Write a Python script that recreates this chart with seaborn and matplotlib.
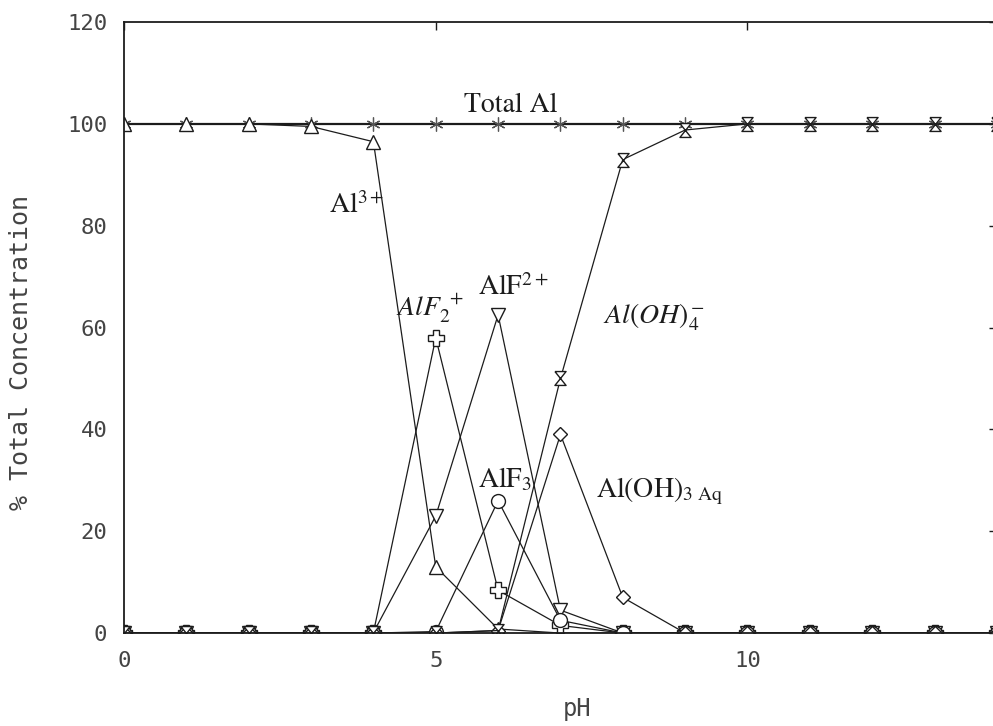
import matplotlib
matplotlib.use("Agg")
import matplotlib.pyplot as plt
import seaborn as sns

# pH steps and % of total Al for each species
ph = [0, 1, 2, 3, 4, 5, 6, 7, 8, 9, 10, 11, 12, 13, 14]
total_al = [100, 100, 100, 100, 100, 100, 100, 100, 100, 100, 100, 100, 100, 100, 100]
al3 = [100, 100, 100, 99.5, 96.5, 13, 0.8, 0, 0, 0, 0, 0, 0, 0, 0]
alf2_plus = [0, 0, 0, 0, 0.1, 58, 8.4, 1.5, 0, 0, 0, 0, 0, 0, 0]
alf_2plus = [0, 0, 0, 0, 0.1, 23, 62.5, 4.5, 0, 0, 0, 0, 0, 0, 0]
alf3 = [0, 0, 0, 0, 0, 0.3, 26, 2.5, 0, 0, 0, 0, 0, 0, 0]
aloh3 = [0, 0, 0, 0, 0, 0, 0.5, 39, 7, 0, 0, 0, 0, 0, 0]
aloh4 = [0, 0, 0, 0, 0, 0, 0.5, 50, 93, 98.8, 100, 100, 100, 100, 100]

y_ticks = [0, 20, 40, 60, 80, 100, 120]
x_ticks = [0, 5, 10]

sns.set_theme(style="white")
plt.rcParams["mathtext.fontset"] = "stix"

ink = "#1c1c1c"
hourglass = [(-0.8, 1), (0.8, 1), (-0.8, -1), (0.8, -1), (-0.8, 1)]

fig = plt.figure(figsize=(9.93, 7.26), dpi=100)
ax = fig.add_axes([0.1249, 0.128, 0.879, 0.8416])

# Total Al drawn first so the species markers sit on top of it
sns.lineplot(x=ph, y=total_al, ax=ax, color=ink, linewidth=1.6,
             marker=(6, 2, 0), markersize=10, markeredgecolor="#555555",
             markeredgewidth=0.9)

series = [
    (al3, "^", 10),
    (alf2_plus, "P", 11),
    (alf_2plus, "v", 10),
    (alf3, "o", 10),
    (aloh3, "D", 7),
    (aloh4, hourglass, 10),
]
for vals, mk, ms in series:
    sns.lineplot(x=ph, y=vals, ax=ax, color=ink, linewidth=0.9,
                 marker=mk, markersize=ms, markerfacecolor="white",
                 markeredgecolor=ink, markeredgewidth=1.0)

ax.set_xlim(0, 14)
ax.set_ylim(0, 120)
ax.set_xticks(x_ticks)
ax.set_yticks(y_ticks)
ax.tick_params(direction="in", length=6, width=1, top=True, right=True,
               colors=ink, labelcolor="#444444", labelsize=16)
ax.tick_params(axis="y", pad=12)
ax.tick_params(axis="x", pad=13)
for lab in ax.get_xticklabels() + ax.get_yticklabels():
    lab.set_fontfamily("DejaVu Sans Mono")
for sp in ax.spines.values():
    sp.set_color(ink)
    sp.set_linewidth(1.3)

ax.set_xlabel("pH", fontfamily="DejaVu Sans Mono", fontsize=17, color="#444444")
ax.set_ylabel("% Total Concentration", fontfamily="DejaVu Sans Mono",
              fontsize=18, color="#444444")
ax.xaxis.set_label_coords(0.519, -0.104)
ax.yaxis.set_label_coords(-0.104, 0.46)

lab_kw = dict(fontfamily="STIXGeneral", fontsize=20, color=ink,
              ha="left", va="baseline")
ax.text(5.45, 102.3, "Total Al", **lab_kw)
ax.text(3.28, 82.5, r"Al$^{3+}$", **lab_kw)
ax.text(4.36, 62.4, r"$AlF_2^{\ +}$", **lab_kw)
ax.text(5.67, 66.3, r"AlF$^{2+}$", **lab_kw)
ax.text(7.68, 60.8, r"$Al(OH)_4^-$", **lab_kw)
ax.text(5.67, 28.6, r"AlF$_3$", **lab_kw)
ax.text(7.57, 26.7, r"Al(OH)$_{\mathrm{3\ Aq}}$", **lab_kw)

fig.savefig("out.png", dpi=100)
